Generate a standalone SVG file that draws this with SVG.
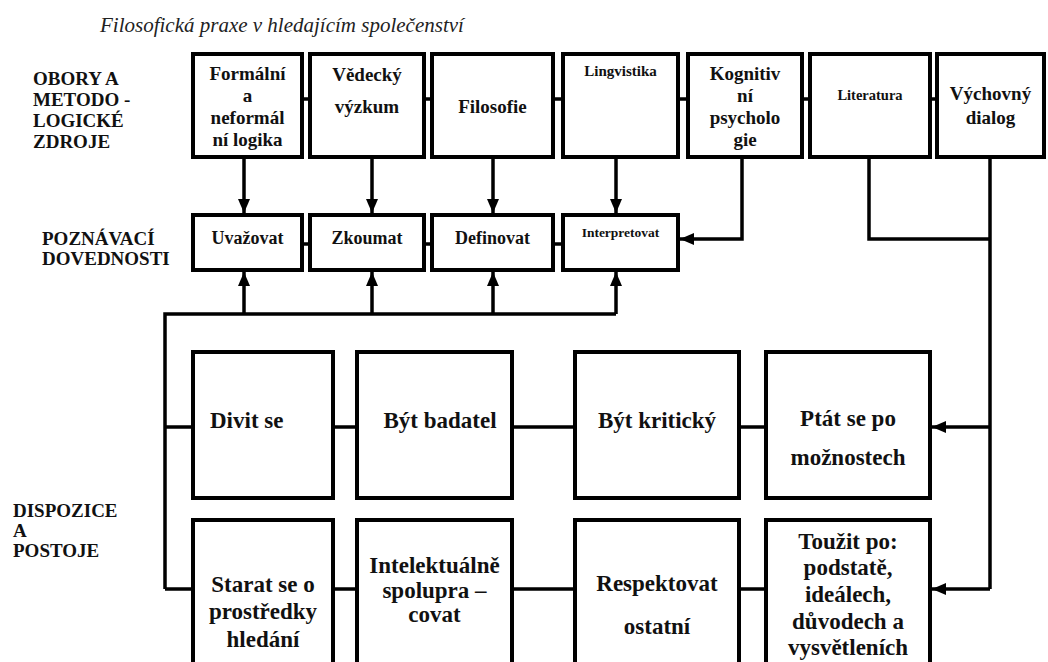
<svg xmlns="http://www.w3.org/2000/svg" width="1048" height="662" viewBox="0 0 1048 662">
<style>
.box{fill:#fff;stroke:#000;stroke-width:4}
.ln{fill:none;stroke:#000;stroke-width:3.5}
.t{font-family:'Liberation Serif','DejaVu Serif',serif;font-weight:bold;fill:#111}
.c{text-anchor:middle}
.lab{font-size:19px}
.s19{font-size:19px}
.s18{font-size:18px}
.s15{font-size:15px}
.s14{font-size:14.5px}
.s13{font-size:13.5px}
.s23{font-size:23px}
.title{font-family:'Liberation Serif','DejaVu Serif',serif;font-style:italic;font-size:21px;fill:#222}
</style>
<defs>
<marker id="ah" markerUnits="userSpaceOnUse" markerWidth="14" markerHeight="12" refX="14" refY="6" orient="auto">
<path d="M0,0 L14,6 L0,12 z" fill="#000"/>
</marker>
</defs>
<rect width="1048" height="662" fill="#fff"/>
<text class="title" x="100" y="32">Filosofická praxe v hledajícím společenství</text>

<g id="labels">
<text class="t lab" x="33" y="85">OBORY A</text>
<text class="t lab" x="33" y="106">METODO -</text>
<text class="t lab" x="33" y="127">LOGICKÉ</text>
<text class="t lab" x="33" y="148">ZDROJE</text>
<text class="t lab" x="42" y="245">POZNÁVACÍ</text>
<text class="t lab" x="42" y="265">DOVEDNOSTI</text>
<text class="t lab" x="13" y="517">DISPOZICE</text>
<text class="t lab" x="13" y="537">A</text>
<text class="t lab" x="13" y="557">POSTOJE</text>
</g>

<g id="connectors">
<path class="ln" d="M302,99H310 M424,99H432 M553,99H563 M678,99H688 M802,99H810 M930,99H937"/>
<path class="ln" d="M302,244H310 M424,244H432 M553,244H563"/>
<path class="ln" d="M244,157V213" marker-end="url(#ah)"/>
<path class="ln" d="M372,157V213" marker-end="url(#ah)"/>
<path class="ln" d="M493,157V213" marker-end="url(#ah)"/>
<path class="ln" d="M616,157V213" marker-end="url(#ah)"/>
<path class="ln" d="M742,157V239H680" marker-end="url(#ah)"/>
<path class="ln" d="M869,157V239H990"/>
<path class="ln" d="M990,157V589"/>
<path class="ln" d="M990,427H932" marker-end="url(#ah)"/>
<path class="ln" d="M990,589H932" marker-end="url(#ah)"/>
<path class="ln" d="M165,589V314H616"/>
<path class="ln" d="M244,314V272" marker-end="url(#ah)"/>
<path class="ln" d="M372,314V272" marker-end="url(#ah)"/>
<path class="ln" d="M493,314V272" marker-end="url(#ah)"/>
<path class="ln" d="M616,314V272" marker-end="url(#ah)"/>
<path class="ln" d="M165,427H193 M333,427H357 M512,427H575 M739,427H766"/>
<path class="ln" d="M165,589H193 M333,589H357 M512,589H575 M739,589H766"/>
</g>

<g id="n-formalni">
<rect class="box" x="193" y="54" width="109" height="103"/>
<text class="t s19 c" x="247.5" y="80">Formální</text>
<text class="t s19 c" x="247.5" y="102">a</text>
<text class="t s19 c" x="247.5" y="124">neformál</text>
<text class="t s19 c" x="247.5" y="146">ní logika</text>
</g>
<g id="n-vedecky">
<rect class="box" x="310" y="54" width="114" height="103"/>
<text class="t s19 c" x="367" y="81">Vědecký</text>
<text class="t s19 c" x="367" y="113">výzkum</text>
</g>
<g id="n-filosofie">
<rect class="box" x="432" y="54" width="121" height="103"/>
<text class="t s19 c" x="492.5" y="113">Filosofie</text>
</g>
<g id="n-lingvistika">
<rect class="box" x="563" y="54" width="115" height="103"/>
<text class="t s15 c" x="620.5" y="76">Lingvistika</text>
</g>
<g id="n-kognitivni">
<rect class="box" x="688" y="54" width="114" height="103"/>
<text class="t s19 c" x="745" y="80">Kognitiv</text>
<text class="t s19 c" x="745" y="102">ní</text>
<text class="t s19 c" x="745" y="124">psycholo</text>
<text class="t s19 c" x="745" y="146">gie</text>
</g>
<g id="n-literatura">
<rect class="box" x="810" y="54" width="120" height="103"/>
<text class="t s14 c" x="870" y="100">Literatura</text>
</g>
<g id="n-vychovny">
<rect class="box" x="937" y="54" width="107" height="103"/>
<text class="t s19 c" x="990.5" y="100">Výchovný</text>
<text class="t s19 c" x="990.5" y="124">dialog</text>
</g>

<g id="n-uvazovat">
<rect class="box" x="193" y="215" width="109" height="55"/>
<text class="t s18 c" x="247.5" y="244">Uvažovat</text>
</g>
<g id="n-zkoumat">
<rect class="box" x="310" y="215" width="114" height="55"/>
<text class="t s18 c" x="367" y="244">Zkoumat</text>
</g>
<g id="n-definovat">
<rect class="box" x="432" y="215" width="121" height="55"/>
<text class="t s18 c" x="492.5" y="244">Definovat</text>
</g>
<g id="n-interpretovat">
<rect class="box" x="563" y="215" width="115" height="55"/>
<text class="t s13 c" x="620.5" y="237">Interpretovat</text>
</g>

<g id="n-divit">
<rect class="box" x="193" y="352" width="140" height="146"/>
<text class="t s23" x="210" y="428">Divit se</text>
</g>
<g id="n-badatel">
<rect class="box" x="357" y="352" width="155" height="146"/>
<text class="t s23 c" x="440" y="428">Být badatel</text>
</g>
<g id="n-kriticky">
<rect class="box" x="575" y="352" width="164" height="146"/>
<text class="t s23 c" x="657" y="428">Být kritický</text>
</g>
<g id="n-ptat">
<rect class="box" x="766" y="352" width="164" height="146"/>
<text class="t s23 c" x="848" y="426">Ptát se po</text>
<text class="t s23 c" x="848" y="465">možnostech</text>
</g>

<g id="n-starat">
<rect class="box" x="193" y="520" width="140" height="160"/>
<text class="t s23 c" x="263" y="592">Starat se o</text>
<text class="t s23 c" x="263" y="619">prostředky</text>
<text class="t s23 c" x="263" y="647">hledání</text>
</g>
<g id="n-intelektualne">
<rect class="box" x="357" y="520" width="155" height="160"/>
<text class="t s23 c" x="434.5" y="573">Intelektuálně</text>
<text class="t s23 c" x="434.5" y="598">spolupra –</text>
<text class="t s23 c" x="434.5" y="622">covat</text>
</g>
<g id="n-respektovat">
<rect class="box" x="575" y="520" width="164" height="160"/>
<text class="t s23 c" x="657" y="591">Respektovat</text>
<text class="t s23 c" x="657" y="634">ostatní</text>
</g>
<g id="n-touzit">
<rect class="box" x="766" y="520" width="164" height="160"/>
<text class="t s23 c" x="848" y="549">Toužit po:</text>
<text class="t s23 c" x="848" y="575">podstatě,</text>
<text class="t s23 c" x="848" y="602">ideálech,</text>
<text class="t s23 c" x="848" y="629">důvodech a</text>
<text class="t s23 c" x="848" y="655">vysvětleních</text>
</g>
</svg>
